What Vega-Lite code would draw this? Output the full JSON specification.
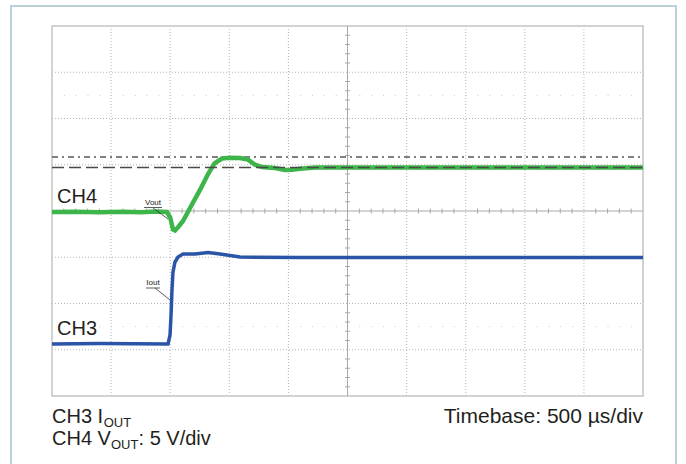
{
  "$schema": "https://vega.github.io/schema/vega-lite/v6.json",
  "width": 686,
  "height": 464,
  "padding": 0,
  "autosize": {"type": "none"},
  "background": "white",
  "config": {"view": {"stroke": null}, "font": "Liberation Sans"},
  "datasets": {
    "frame": [{"x": -0.694, "x2": 10.558, "y": 8.432, "y2": -1.8}],
    "plotbox": [{"x": 0, "x2": 10, "y": 0, "y2": 8}],
    "gridx": [{"x": 1}, {"x": 2}, {"x": 3}, {"x": 4}, {"x": 6}, {"x": 7}, {"x": 8}, {"x": 9}],
    "gridy": [{"y": 1}, {"y": 2}, {"y": 3}, {"y": 5}, {"y": 6}, {"y": 7}],
    "dotrows": [{"y": 6.5}, {"y": 1.5}],
    "centerx": [{"x": 5}],
    "centery": [{"y": 4}],
    "ticksOnV": [
      {"y": 0.2}, {"y": 0.4}, {"y": 0.6}, {"y": 0.8}, {"y": 1.2}, {"y": 1.4}, {"y": 1.6}, {"y": 1.8},
      {"y": 2.2}, {"y": 2.4}, {"y": 2.6}, {"y": 2.8}, {"y": 3.2}, {"y": 3.4}, {"y": 3.6}, {"y": 3.8},
      {"y": 4.2}, {"y": 4.4}, {"y": 4.6}, {"y": 4.8}, {"y": 5.2}, {"y": 5.4}, {"y": 5.6}, {"y": 5.8},
      {"y": 6.2}, {"y": 6.4}, {"y": 6.6}, {"y": 6.8}, {"y": 7.2}, {"y": 7.4}, {"y": 7.6}, {"y": 7.8}
    ],
    "ticksOnH": [
      {"x": 0.2}, {"x": 0.4}, {"x": 0.6}, {"x": 0.8}, {"x": 1.2}, {"x": 1.4}, {"x": 1.6}, {"x": 1.8},
      {"x": 2.2}, {"x": 2.4}, {"x": 2.6}, {"x": 2.8}, {"x": 3.2}, {"x": 3.4}, {"x": 3.6}, {"x": 3.8},
      {"x": 4.2}, {"x": 4.4}, {"x": 4.6}, {"x": 4.8}, {"x": 5.2}, {"x": 5.4}, {"x": 5.6}, {"x": 5.8},
      {"x": 6.2}, {"x": 6.4}, {"x": 6.6}, {"x": 6.8}, {"x": 7.2}, {"x": 7.4}, {"x": 7.6}, {"x": 7.8},
      {"x": 8.2}, {"x": 8.4}, {"x": 8.6}, {"x": 8.8}, {"x": 9.2}, {"x": 9.4}, {"x": 9.6}, {"x": 9.8}
    ],
    "dashdot": [{"x": 0, "x2": 10, "y": 5.168}],
    "dashed": [{"x": 0, "x2": 10, "y": 4.941}],
    "ch4": [
      {"t": 0, "v": 3.978}, {"t": 0.4, "v": 3.985}, {"t": 0.8, "v": 3.972}, {"t": 1.2, "v": 3.985},
      {"t": 1.5, "v": 3.975}, {"t": 1.75, "v": 3.99}, {"t": 1.945, "v": 3.978}, {"t": 2.0, "v": 3.86},
      {"t": 2.047, "v": 3.6}, {"t": 2.081, "v": 3.58}, {"t": 2.132, "v": 3.65}, {"t": 2.217, "v": 3.784},
      {"t": 2.335, "v": 4.065}, {"t": 2.504, "v": 4.455}, {"t": 2.64, "v": 4.8}, {"t": 2.75, "v": 5.03},
      {"t": 2.876, "v": 5.135}, {"t": 3.012, "v": 5.15}, {"t": 3.181, "v": 5.146}, {"t": 3.316, "v": 5.11},
      {"t": 3.435, "v": 5.0}, {"t": 3.553, "v": 4.951}, {"t": 3.773, "v": 4.93}, {"t": 3.942, "v": 4.886},
      {"t": 4.061, "v": 4.89}, {"t": 4.196, "v": 4.915}, {"t": 4.45, "v": 4.941}, {"t": 4.873, "v": 4.941},
      {"t": 6, "v": 4.941}, {"t": 8, "v": 4.941}, {"t": 10, "v": 4.941}
    ],
    "ch3": [
      {"t": 0, "v": 1.124}, {"t": 0.812, "v": 1.135}, {"t": 1.963, "v": 1.124}, {"t": 1.997, "v": 1.319},
      {"t": 2.014, "v": 1.751}, {"t": 2.03, "v": 2.292}, {"t": 2.047, "v": 2.681}, {"t": 2.081, "v": 2.897},
      {"t": 2.132, "v": 3.005}, {"t": 2.217, "v": 3.07}, {"t": 2.42, "v": 3.07}, {"t": 2.64, "v": 3.103},
      {"t": 2.843, "v": 3.07}, {"t": 3.181, "v": 3.005}, {"t": 4.196, "v": 2.995}, {"t": 10, "v": 2.995}
    ],
    "underlines": [
      {"x": 1.557, "x2": 1.861, "y": 4.076, "y2": 4.076},
      {"x": 1.591, "x2": 1.827, "y": 2.335, "y2": 2.335},
      {"x": 1.709, "x2": 1.963, "y": 4.065, "y2": 3.827},
      {"x": 1.743, "x2": 1.997, "y": 2.335, "y2": 2.076}
    ],
    "chlabels": [
      {"x": 0.085, "y": 4.173, "text": "CH4"},
      {"x": 0.085, "y": 1.319, "text": "CH3"}
    ],
    "small": [
      {"x": 1.709, "y": 4.13, "text": "Vout"},
      {"x": 1.709, "y": 2.4, "text": "Iout"}
    ],
    "bottomleft": [
      {"x": 0, "y": -0.584, "text": "CH3 I"},
      {"x": 0, "y": -1.059, "text": "CH4 V"},
      {"x": 1.464, "y": -1.059, "text": ": 5 V/div"}
    ],
    "subs": [
      {"x": 0.875, "y": -0.67, "text": "OUT"},
      {"x": 0.998, "y": -1.146, "text": "OUT"}
    ],
    "bottomright": [
      {"x": 10, "y": -0.584, "text": "Timebase: 500 µs/div"}
    ]
  },
  "layer": [
    {
      "data": {"name": "frame"},
      "mark": {"type": "rect", "fill": null, "stroke": "#bcd0da", "strokeWidth": 2},
      "encoding": {
        "x": {"field": "x", "type": "quantitative", "scale": {"domain": [-0.88, 10.727], "nice": false, "zero": false}, "axis": null},
        "x2": {"field": "x2"},
        "y": {"field": "y", "type": "quantitative", "scale": {"domain": [-1.47, 8.562], "nice": false, "zero": false}, "axis": null},
        "y2": {"field": "y2"}
      }
    },
    {
      "data": {"name": "gridx"},
      "mark": {"type": "rule", "stroke": "#b5b5b5", "strokeWidth": 1, "strokeDash": [1, 2]},
      "encoding": {
        "x": {"field": "x", "type": "quantitative", "scale": {"domain": [-0.88, 10.727], "nice": false, "zero": false}, "axis": null},
        "y": {"datum": 0, "type": "quantitative", "scale": {"domain": [-1.47, 8.562], "nice": false, "zero": false}, "axis": null},
        "y2": {"datum": 8}
      }
    },
    {
      "data": {"name": "gridy"},
      "mark": {"type": "rule", "stroke": "#b5b5b5", "strokeWidth": 1, "strokeDash": [1, 2]},
      "encoding": {
        "y": {"field": "y", "type": "quantitative", "scale": {"domain": [-1.47, 8.562], "nice": false, "zero": false}, "axis": null},
        "x": {"datum": 0, "type": "quantitative", "scale": {"domain": [-0.88, 10.727], "nice": false, "zero": false}, "axis": null},
        "x2": {"datum": 10}
      }
    },
    {
      "data": {"name": "dotrows"},
      "mark": {"type": "rule", "stroke": "#c8c8c8", "strokeWidth": 1, "strokeDash": [1, 10.82]},
      "encoding": {
        "y": {"field": "y", "type": "quantitative", "scale": {"domain": [-1.47, 8.562], "nice": false, "zero": false}, "axis": null},
        "x": {"datum": 0, "type": "quantitative", "scale": {"domain": [-0.88, 10.727], "nice": false, "zero": false}, "axis": null},
        "x2": {"datum": 10}
      }
    },
    {
      "data": {"name": "plotbox"},
      "mark": {"type": "rect", "fill": null, "stroke": "#c4c4c4", "strokeWidth": 1.5},
      "encoding": {
        "x": {"field": "x", "type": "quantitative", "scale": {"domain": [-0.88, 10.727], "nice": false, "zero": false}, "axis": null},
        "x2": {"field": "x2"},
        "y": {"field": "y", "type": "quantitative", "scale": {"domain": [-1.47, 8.562], "nice": false, "zero": false}, "axis": null},
        "y2": {"field": "y2"}
      }
    },
    {
      "data": {"name": "centerx"},
      "mark": {"type": "rule", "stroke": "#a8a8a8", "strokeWidth": 1},
      "encoding": {
        "x": {"field": "x", "type": "quantitative", "scale": {"domain": [-0.88, 10.727], "nice": false, "zero": false}, "axis": null},
        "y": {"datum": 0, "type": "quantitative", "scale": {"domain": [-1.47, 8.562], "nice": false, "zero": false}, "axis": null},
        "y2": {"datum": 8}
      }
    },
    {
      "data": {"name": "centery"},
      "mark": {"type": "rule", "stroke": "#a8a8a8", "strokeWidth": 1},
      "encoding": {
        "y": {"field": "y", "type": "quantitative", "scale": {"domain": [-1.47, 8.562], "nice": false, "zero": false}, "axis": null},
        "x": {"datum": 0, "type": "quantitative", "scale": {"domain": [-0.88, 10.727], "nice": false, "zero": false}, "axis": null},
        "x2": {"datum": 10}
      }
    },
    {
      "data": {"name": "ticksOnV"},
      "mark": {"type": "tick", "orient": "horizontal", "size": 5, "thickness": 1, "color": "#a8a8a8", "opacity": 1},
      "encoding": {
        "y": {"field": "y", "type": "quantitative", "scale": {"domain": [-1.47, 8.562], "nice": false, "zero": false}, "axis": null},
        "x": {"datum": 5, "type": "quantitative", "scale": {"domain": [-0.88, 10.727], "nice": false, "zero": false}, "axis": null}
      }
    },
    {
      "data": {"name": "ticksOnH"},
      "mark": {"type": "tick", "orient": "vertical", "size": 5, "thickness": 1, "color": "#a8a8a8", "opacity": 1},
      "encoding": {
        "x": {"field": "x", "type": "quantitative", "scale": {"domain": [-0.88, 10.727], "nice": false, "zero": false}, "axis": null},
        "y": {"datum": 4, "type": "quantitative", "scale": {"domain": [-1.47, 8.562], "nice": false, "zero": false}, "axis": null}
      }
    },
    {
      "data": {"name": "dashdot"},
      "mark": {"type": "rule", "stroke": "#555555", "strokeWidth": 1.5, "strokeDash": [6, 4, 2, 4]},
      "encoding": {
        "x": {"field": "x", "type": "quantitative", "scale": {"domain": [-0.88, 10.727], "nice": false, "zero": false}, "axis": null},
        "x2": {"field": "x2"},
        "y": {"field": "y", "type": "quantitative", "scale": {"domain": [-1.47, 8.562], "nice": false, "zero": false}, "axis": null}
      }
    },
    {
      "data": {"name": "ch3"},
      "mark": {"type": "line", "stroke": "#2a55a6", "strokeWidth": 3.5, "interpolate": "linear"},
      "encoding": {
        "x": {"field": "t", "type": "quantitative", "scale": {"domain": [-0.88, 10.727], "nice": false, "zero": false}, "axis": null},
        "y": {"field": "v", "type": "quantitative", "scale": {"domain": [-1.47, 8.562], "nice": false, "zero": false}, "axis": null}
      }
    },
    {
      "data": {"name": "ch4"},
      "mark": {"type": "line", "stroke": "#3db54a", "strokeWidth": 4.5, "interpolate": "linear"},
      "encoding": {
        "x": {"field": "t", "type": "quantitative", "scale": {"domain": [-0.88, 10.727], "nice": false, "zero": false}, "axis": null},
        "y": {"field": "v", "type": "quantitative", "scale": {"domain": [-1.47, 8.562], "nice": false, "zero": false}, "axis": null}
      }
    },
    {
      "data": {"name": "dashed"},
      "mark": {"type": "rule", "stroke": "#4a4a4a", "strokeWidth": 1.5, "strokeDash": [12, 5]},
      "encoding": {
        "x": {"field": "x", "type": "quantitative", "scale": {"domain": [-0.88, 10.727], "nice": false, "zero": false}, "axis": null},
        "x2": {"field": "x2"},
        "y": {"field": "y", "type": "quantitative", "scale": {"domain": [-1.47, 8.562], "nice": false, "zero": false}, "axis": null}
      }
    },
    {
      "data": {"name": "underlines"},
      "mark": {"type": "rule", "stroke": "#333333", "strokeWidth": 0.8},
      "encoding": {
        "x": {"field": "x", "type": "quantitative", "scale": {"domain": [-0.88, 10.727], "nice": false, "zero": false}, "axis": null},
        "x2": {"field": "x2"},
        "y": {"field": "y", "type": "quantitative", "scale": {"domain": [-1.47, 8.562], "nice": false, "zero": false}, "axis": null},
        "y2": {"field": "y2"}
      }
    },
    {
      "data": {"name": "small"},
      "mark": {"type": "text", "fontSize": 8, "align": "center", "baseline": "alphabetic", "color": "#222222"},
      "encoding": {
        "x": {"field": "x", "type": "quantitative", "scale": {"domain": [-0.88, 10.727], "nice": false, "zero": false}, "axis": null},
        "y": {"field": "y", "type": "quantitative", "scale": {"domain": [-1.47, 8.562], "nice": false, "zero": false}, "axis": null},
        "text": {"field": "text"}
      }
    },
    {
      "data": {"name": "chlabels"},
      "mark": {"type": "text", "fontSize": 20, "align": "left", "baseline": "alphabetic", "color": "#231f20"},
      "encoding": {
        "x": {"field": "x", "type": "quantitative", "scale": {"domain": [-0.88, 10.727], "nice": false, "zero": false}, "axis": null},
        "y": {"field": "y", "type": "quantitative", "scale": {"domain": [-1.47, 8.562], "nice": false, "zero": false}, "axis": null},
        "text": {"field": "text"}
      }
    },
    {
      "data": {"name": "bottomleft"},
      "mark": {"type": "text", "fontSize": 20, "align": "left", "baseline": "alphabetic", "color": "#231f20"},
      "encoding": {
        "x": {"field": "x", "type": "quantitative", "scale": {"domain": [-0.88, 10.727], "nice": false, "zero": false}, "axis": null},
        "y": {"field": "y", "type": "quantitative", "scale": {"domain": [-1.47, 8.562], "nice": false, "zero": false}, "axis": null},
        "text": {"field": "text"}
      }
    },
    {
      "data": {"name": "subs"},
      "mark": {"type": "text", "fontSize": 13, "align": "left", "baseline": "alphabetic", "color": "#231f20"},
      "encoding": {
        "x": {"field": "x", "type": "quantitative", "scale": {"domain": [-0.88, 10.727], "nice": false, "zero": false}, "axis": null},
        "y": {"field": "y", "type": "quantitative", "scale": {"domain": [-1.47, 8.562], "nice": false, "zero": false}, "axis": null},
        "text": {"field": "text"}
      }
    },
    {
      "data": {"name": "bottomright"},
      "mark": {"type": "text", "fontSize": 21, "align": "right", "baseline": "alphabetic", "color": "#231f20"},
      "encoding": {
        "x": {"field": "x", "type": "quantitative", "scale": {"domain": [-0.88, 10.727], "nice": false, "zero": false}, "axis": null},
        "y": {"field": "y", "type": "quantitative", "scale": {"domain": [-1.47, 8.562], "nice": false, "zero": false}, "axis": null},
        "text": {"field": "text"}
      }
    }
  ]
}
